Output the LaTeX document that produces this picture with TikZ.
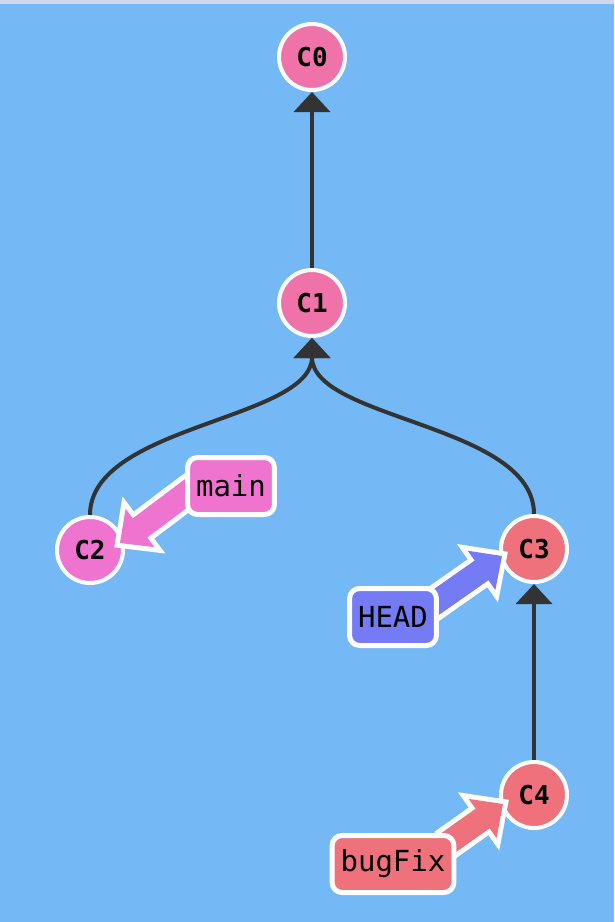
\documentclass[tikz,border=0pt]{standalone}
\usepackage{fontspec}
\newfontfamily\gitmono{DejaVu Sans Mono}
\usetikzlibrary{calc,arrows.meta}

\definecolor{canvas}{HTML}{74B9F5}
\definecolor{topbar}{HTML}{CFD8EA}
\definecolor{rootpink}{HTML}{EF73A8}
\definecolor{mainpink}{HTML}{EE74D0}
\definecolor{fixred}{HTML}{EF717C}
\definecolor{headblue}{HTML}{757AF5}
\definecolor{edgegray}{HTML}{333333}

\pgfdeclarelayer{tags}
\pgfsetlayers{main,tags}

\begin{document}
\begin{tikzpicture}[x=1pt, y=-1pt, node distance=246pt,
    commit/.style={circle,draw=white,line width=4pt,fill=#1,minimum size=66pt,inner sep=0pt,
                   font=\gitmono\bfseries\fontsize{26}{26}\selectfont},
    tag/.style={rectangle,rounded corners=10pt,draw=white,line width=5pt,fill=#1,
                minimum height=57pt,inner xsep=8.5pt,font=\gitmono\fontsize{29}{29}\selectfont},
    parent/.style={draw=edgegray,line width=4pt,-{Triangle[length=20pt,width=36pt]}},
    halo/.style={draw=white,line width=10pt,line join=miter}]

  \fill[canvas] (0,0) rectangle (614,922);
  \fill[topbar] (0,0) rectangle (614,4);

  \node[commit=rootpink] (C0) at (312,57) {C0};
  \node[commit=rootpink] (C1) [below of=C0] {C1};
  \node[commit=mainpink] (C2) at (90,550) {C2};
  \node[commit=fixred] (C3) at (534,549) {C3};
  \node[commit=fixred] (C4) [below of=C3] {C4};

  \draw[parent] (C1) -- (C0);
  \draw[parent] (C2.north) .. controls +(0,-90) and +(0,82) .. (C1.south);
  \draw[parent] (C3.north) .. controls +(0,-90) and +(0,82) .. (C1.south);
  \draw[parent] (C4) -- (C3);

  \begin{pgfonlayer}{tags}
    \node[tag=mainpink] (main) at (231,486) {main};
    \node[tag=headblue] (HEAD) at (393,617) {HEAD};
    \node[tag=fixred] (bugFix) at (393,864) {bugFix};
  \end{pgfonlayer}

  \coordinate (C2tip) at (120,543);
  \coordinate (C3tip) at (502,556);
  \coordinate (C4tip) at (503,804);

  \foreach \from/\tip/\col in {main.190/C2tip/mainpink, HEAD.20/C3tip/headblue, bugFix.23/C4tip/fixred} {
    \coordinate (base) at ($(\tip)!25pt!(\from)$);
    \coordinate (tail) at ($(\from)!-15pt!(\tip)$);
    \draw[halo,fill=white] (\tip) -- ($(base)!24pt!90:(\tip)$) -- ($(base)!24pt!-90:(\tip)$) -- cycle;
    \draw[draw=white,line width=34pt] (tail) -- (base);
    \fill[fill=\col] (\tip) -- ($(base)!24pt!90:(\tip)$) -- ($(base)!24pt!-90:(\tip)$) -- cycle;
    \draw[draw=\col,line width=24pt] (tail) -- ($(base)!2pt!(\tip)$);
  }
\end{tikzpicture}
\end{document}
